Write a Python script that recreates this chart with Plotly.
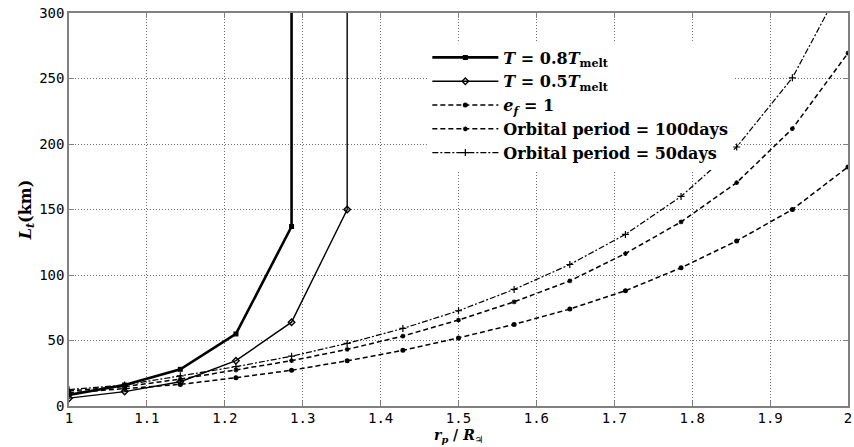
import plotly.graph_objects as go

# r_p / R_J sample positions
x_vals = [1.0, 1.0714, 1.1429, 1.2143, 1.2857, 1.3571, 1.4286, 1.5,
          1.5714, 1.6429, 1.7143, 1.7857, 1.8571, 1.9286, 2.0]

# L_t (km) for each case
t08_x = [1.0, 1.0714, 1.1429, 1.2143, 1.2857, 1.2857]
t08_y = [8.5, 16.0, 28.0, 55.0, 137.0, 2000.0]
t05_x = [1.0, 1.0714, 1.1429, 1.2143, 1.2857, 1.3571, 1.3571]
t05_y = [6.0, 11.0, 18.5, 34.6, 64.0, 150.0, 2000.0]
ef1_y = [10.0, 13.3, 16.5, 21.6, 27.3, 34.5, 42.5, 52.0, 62.3, 74.0,
         88.0, 105.5, 126.0, 150.0, 182.5]
orb100_y = [11.5, 14.8, 20.5, 27.5, 34.6, 43.2, 53.4, 65.6, 79.5, 95.5,
            116.4, 140.5, 170.5, 211.7, 269.4]
orb50_y = [12.5, 16.0, 23.0, 30.0, 38.0, 47.8, 59.2, 72.7, 89.0, 108.0,
           131.0, 160.0, 197.7, 250.5, 330.0]

names = [
    "<b><i>T</i> = 0.8<i>T</i><sub>melt</sub></b>",
    "<b><i>T</i> = 0.5<i>T</i><sub>melt</sub></b>",
    "<b><i>e<sub>f</sub></i> = 1</b>",
    "<b>Orbital period = 100days</b>",
    "<b>Orbital period = 50days</b>",
]

x_ticks = [1, 1.1, 1.2, 1.3, 1.4, 1.5, 1.6, 1.7, 1.8, 1.9, 2]
x_tick_text = ["1", "1.1", "1.2", "1.3", "1.4", "1.5", "1.6", "1.7", "1.8", "1.9", "2"]
y_ticks = [0, 50, 100, 150, 200, 250, 300]

fig = go.Figure()
fig.add_trace(go.Scatter(x=t08_x, y=t08_y, name=names[0], mode="lines+markers",
                         line=dict(color="black", width=2.6),
                         marker=dict(symbol="square", size=5, color="black")))
fig.add_trace(go.Scatter(x=t05_x, y=t05_y, name=names[1], mode="lines+markers",
                         line=dict(color="black", width=1.4),
                         marker=dict(symbol="diamond-open", size=5, color="black",
                                     line=dict(width=1.4, color="black"))))
fig.add_trace(go.Scatter(x=x_vals, y=ef1_y, name=names[2], mode="lines+markers",
                         line=dict(color="black", width=1.5, dash="5px,3px"),
                         marker=dict(symbol="circle", size=5, color="black")))
fig.add_trace(go.Scatter(x=x_vals, y=orb100_y, name=names[3], mode="lines+markers",
                         line=dict(color="black", width=1.5, dash="5px,3px"),
                         marker=dict(symbol="asterisk", size=4, color="black",
                                     line=dict(width=1.2, color="black"))))
fig.add_trace(go.Scatter(x=x_vals, y=orb50_y, name=names[4], mode="lines+markers",
                         line=dict(color="black", width=1.2, dash="6px,2px,2px,2px"),
                         marker=dict(symbol="cross-thin", size=5, color="black",
                                     line=dict(width=1.2, color="black"))))

axis_common = dict(
    showline=True, mirror="ticks", linecolor="#808080", linewidth=1.5,
    ticks="inside", ticklen=5, tickcolor="#808080",
    showgrid=True, gridcolor="#6f6f6f", griddash="1px,2px", gridwidth=1,
    zeroline=False,
    tickfont=dict(family="DejaVu Sans Mono", size=14, color="black"),
)

fig.update_xaxes(range=[1, 2], tickvals=x_ticks, ticktext=x_tick_text,
                 ticklabeloverflow="allow", ticklabelstandoff=-2, **axis_common)
fig.update_yaxes(range=[0, 300], tickvals=y_ticks,
                 title=dict(text="<b><i>L<sub>t</sub></i>(km)</b>",
                            font=dict(family="DejaVu Serif", size=16, color="black"),
                            standoff=4),
                 **axis_common)

fig.add_annotation(text="<b><i>r<sub>p</sub></i> / <i>R</i><sub>♃</sub></b>",
                   xref="paper", yref="paper", x=0.5, y=-0.104,
                   xanchor="center", yanchor="bottom", showarrow=False,
                   font=dict(family="DejaVu Serif", size=14, color="black"))

fig.update_layout(
    width=854, height=447,
    margin=dict(l=69, r=2, t=13, b=41),
    plot_bgcolor="white", paper_bgcolor="white",
    showlegend=True,
    legend=dict(x=0.46, y=0.93, xanchor="left", yanchor="top",
                bgcolor="white", borderwidth=0,
                font=dict(family="DejaVu Serif", size=16, color="black"),
                itemwidth=66, tracegroupgap=0),
)

fig.write_html("out.html")
